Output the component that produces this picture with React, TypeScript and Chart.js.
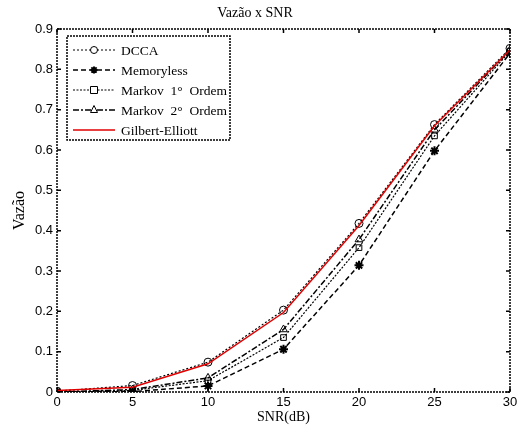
import React, { useEffect, useRef } from "react";
import { Chart, registerables } from "chart.js";

Chart.register(...registerables);

const snrValues = [0, 5, 10, 15, 20, 25, 30];
const dccaValues = [0.002, 0.016, 0.074, 0.203, 0.418, 0.663, 0.852];
const memorylessValues = [0, 0.001, 0.015, 0.106, 0.314, 0.598, 0.84];
const markov1Values = [0, 0.004, 0.028, 0.135, 0.358, 0.635, 0.845];
const markov2Values = [0, 0.006, 0.035, 0.155, 0.378, 0.65, 0.848];
const gilbertValues = [0.004, 0.012, 0.07, 0.197, 0.413, 0.66, 0.848];
const seriesLabels = ["DCCA", "Memoryless", "Markov  1\u00B0  Ordem", "Markov  2\u00B0  Ordem", "Gilbert-Elliott"];
const xTicks = [0, 5, 10, 15, 20, 25, 30];
const yTicks = [0, 0.1, 0.2, 0.3, 0.4, 0.5, 0.6, 0.7, 0.8, 0.9];

const SERIF = "'Liberation Serif', 'Times New Roman', serif";
const SANS = "'Liberation Sans', Arial, sans-serif";

function drawMarker(ctx: CanvasRenderingContext2D, style: string, x: number, y: number, r: number) {
  ctx.beginPath();
  if (style === "circle") {
    ctx.arc(x, y, r, 0, Math.PI * 2);
    ctx.fillStyle = "#fff";
    ctx.fill();
    ctx.stroke();
  } else if (style === "rect") {
    ctx.rect(x - r, y - r, 2 * r, 2 * r);
    ctx.fillStyle = "#fff";
    ctx.fill();
    ctx.stroke();
  } else if (style === "triangle") {
    ctx.moveTo(x, y - r - 1);
    ctx.lineTo(x + r, y + r - 1);
    ctx.lineTo(x - r, y + r - 1);
    ctx.closePath();
    ctx.fillStyle = "#fff";
    ctx.fill();
    ctx.stroke();
  } else if (style === "star") {
    ctx.moveTo(x - r, y);
    ctx.lineTo(x + r, y);
    ctx.moveTo(x, y - r);
    ctx.lineTo(x, y + r);
    const d = r * 0.75;
    ctx.moveTo(x - d, y - d);
    ctx.lineTo(x + d, y + d);
    ctx.moveTo(x - d, y + d);
    ctx.lineTo(x + d, y - d);
    ctx.stroke();
  }
}

const framePlugin = {
  id: "frameTicks",
  afterDraw(chart: any) {
    const { ctx, chartArea } = chart;
    const { left, right, top, bottom } = chartArea;
    const xs = chart.scales.x;
    const ys = chart.scales.y;
    ctx.save();
    ctx.strokeStyle = "#000";
    ctx.lineWidth = 1.5;
    ctx.setLineDash([2, 1]);
    ctx.strokeRect(left, top, right - left, bottom - top);
    ctx.setLineDash([]);
    ctx.lineWidth = 1.5;
    const t = 4;
    xTicks.forEach((v) => {
      const px = xs.getPixelForValue(v);
      ctx.beginPath();
      ctx.moveTo(px, bottom);
      ctx.lineTo(px, bottom - t);
      ctx.moveTo(px, top);
      ctx.lineTo(px, top + t);
      ctx.stroke();
    });
    yTicks.forEach((v) => {
      const py = ys.getPixelForValue(v);
      ctx.beginPath();
      ctx.moveTo(left, py);
      ctx.lineTo(left + t, py);
      ctx.moveTo(right, py);
      ctx.lineTo(right - t, py);
      ctx.stroke();
    });

    // legend
    const bx = 67, by = 36, bw = 163, bh = 104;
    ctx.fillStyle = "#fff";
    ctx.fillRect(bx, by, bw, bh);
    ctx.lineWidth = 1.5;
    ctx.setLineDash([2, 1]);
    ctx.strokeRect(bx, by, bw, bh);
    ctx.setLineDash([]);
    chart.data.datasets.forEach((ds: any, i: number) => {
      const y = 50 + i * 20;
      ctx.strokeStyle = ds.borderColor;
      ctx.lineWidth = ds.borderWidth;
      ctx.setLineDash(ds.borderDash || []);
      ctx.beginPath();
      ctx.moveTo(73, y);
      ctx.lineTo(115, y);
      ctx.stroke();
      ctx.setLineDash([]);
      if (ds.pointRadius > 0) {
        ctx.strokeStyle = "#000";
        ctx.lineWidth = ds.pointBorderWidth || 1;
        drawMarker(ctx, ds.pointStyle, 94, y, 3.5);
      }
      ctx.fillStyle = "#000";
      ctx.font = `13.5px ${SERIF}`;
      ctx.textBaseline = "middle";
      ctx.textAlign = "left";
      ctx.fillText(ds.label, 121, y + 1);
    });
    ctx.restore();
  },
};

function toPoints(values: number[]) {
  return snrValues.map((x, i) => ({ x, y: values[i] }));
}

export default function App() {
  const ref = useRef<HTMLCanvasElement>(null);
  useEffect(() => {
    document.body.style.margin = "0";
    const canvas = ref.current!;
    const chart = new Chart(canvas, {
      type: "line",
      data: {
        datasets: [
          {
            label: seriesLabels[0],
            data: toPoints(dccaValues),
            borderColor: "#000",
            borderWidth: 1.2,
            borderDash: [2, 2],
            pointStyle: "circle",
            pointRadius: 4,
            pointBorderWidth: 1,
            pointBorderColor: "#000",
            pointBackgroundColor: "rgba(255,255,255,0)",
            order: 1,
          },
          {
            label: seriesLabels[1],
            data: toPoints(memorylessValues),
            borderColor: "#000",
            borderWidth: 1.5,
            borderDash: [5, 3],
            pointStyle: "star",
            pointRadius: 4.5,
            pointBorderWidth: 2,
            pointBorderColor: "#000",
            pointBackgroundColor: "#000",
            order: 2,
          },
          {
            label: seriesLabels[2],
            data: toPoints(markov1Values),
            borderColor: "#000",
            borderWidth: 1.2,
            borderDash: [2, 1.5],
            pointStyle: "rect",
            pointRadius: 4,
            pointBorderWidth: 1,
            pointBorderColor: "#000",
            pointBackgroundColor: "rgba(255,255,255,0)",
            order: 3,
          },
          {
            label: seriesLabels[3],
            data: toPoints(markov2Values),
            borderColor: "#000",
            borderWidth: 1.5,
            borderDash: [6, 2, 2, 2],
            pointStyle: "triangle",
            pointRadius: 4.5,
            pointBorderWidth: 1,
            pointBorderColor: "#000",
            pointBackgroundColor: "rgba(255,255,255,0)",
            order: 4,
          },
          {
            label: seriesLabels[4],
            data: toPoints(gilbertValues),
            borderColor: "#e00000",
            borderWidth: 1.5,
            borderDash: [],
            pointRadius: 0,
            order: 0,
          },
        ],
      },
      options: {
        responsive: false,
        animation: false,
        layout: { padding: { top: 0, right: 22, left: 0, bottom: 0 } },
        plugins: {
          legend: { display: false },
          tooltip: { enabled: false },
          title: {
            display: true,
            text: "Vaz\u00E3o x SNR",
            color: "#000",
            font: { family: SERIF, size: 14, weight: "normal" },
            padding: { top: 5, bottom: 7.2 },
          },
        },
        scales: {
          x: {
            type: "linear",
            min: 0,
            max: 30,
            afterFit: (s: any) => {
              s.height = 45;
            },
            afterBuildTicks: (s: any) => {
              s.ticks = xTicks.map((v) => ({ value: v }));
            },
            ticks: {
              color: "#000",
              font: { family: SANS, size: 13 },
              padding: 3,
              maxRotation: 0,
            },
            grid: { display: false, drawTicks: false },
            border: { display: false },
            title: {
              display: true,
              text: "SNR(dB)",
              color: "#000",
              font: { family: SERIF, size: 14 },
              padding: { top: 11, bottom: 11 },
            },
          },
          y: {
            type: "linear",
            min: 0,
            max: 0.9,
            afterFit: (s: any) => {
              s.width = 57;
            },
            afterBuildTicks: (s: any) => {
              s.ticks = yTicks.map((v) => ({ value: v }));
            },
            ticks: {
              color: "#000",
              font: { family: SANS, size: 13 },
              padding: 4,
              callback: (v: any) => String(Math.round(Number(v) * 10) / 10),
            },
            grid: { display: false, drawTicks: false },
            border: { display: false },
            title: {
              display: true,
              text: "Vaz\u00E3o",
              color: "#000",
              font: { family: SERIF, size: 16 },
              padding: { top: 10, bottom: 10 },
            },
          },
        },
      },
      plugins: [framePlugin],
    } as any);
    return () => chart.destroy();
  }, []);
  return (
    <div style={{ width: 532, height: 437, background: "#fff" }}>
      <canvas ref={ref} width={532} height={437} style={{ display: "block" }} />
    </div>
  );
}
